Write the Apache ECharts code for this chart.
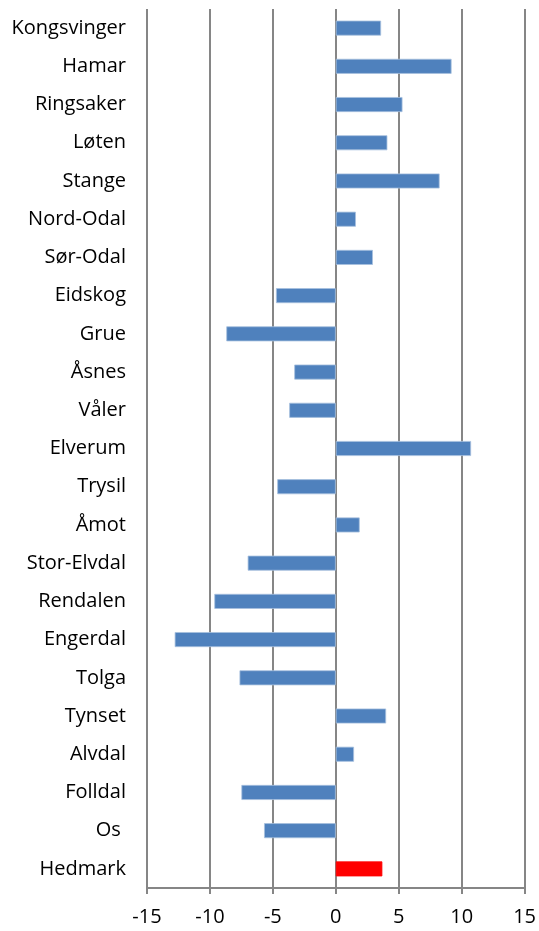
<!DOCTYPE html>
<html>
<head>
<meta charset="utf-8">
<script src="https://cdn.jsdelivr.net/npm/echarts@6/dist/echarts.min.js"></script>
<style>
  html, body { margin: 0; padding: 0; background: #fff; }
  #chart { width: 539px; height: 931px; }
</style>
</head>
<body>
<div id="chart"></div>
<script>
// kommuner, ovenfra og ned
const kommuner = ['Kongsvinger', 'Hamar', 'Ringsaker', 'Løten', 'Stange', 'Nord-Odal', 'Sør-Odal',
  'Eidskog', 'Grue', 'Åsnes', 'Våler', 'Elverum', 'Trysil', 'Åmot', 'Stor-Elvdal', 'Rendalen',
  'Engerdal', 'Tolga', 'Tynset', 'Alvdal', 'Folldal', 'Os ', 'Hedmark']
const endring = [3.6, 9.2, 5.3, 4.1, 8.25, 1.6, 2.95,
  -4.75, -8.7, -3.3, -3.7, 10.75, -4.65, 1.9, -7.0, -9.65,
  -12.8, -7.65, 4.0, 1.45, -7.5, -5.7, 3.7]
const xTicks = [-15, 15, 5] // min, max, interval

const blue = '#4f81bd'
const red = '#ff0000'
const gray = '#868686'

const chart = echarts.init(document.getElementById('chart'))

const option = {
  animation: false,
  textStyle: { fontFamily: 'Open Sans' },
  grid: { left: 147, right: 14, top: 9, bottom: 43, containLabel: false },
  xAxis: {
    type: 'value',
    min: xTicks[0],
    max: xTicks[1],
    interval: xTicks[2],
    axisLine: { show: true, onZero: false, lineStyle: { color: gray, width: 2 } },
    axisTick: { show: true, length: 6, lineStyle: { color: gray, width: 2 } },
    axisLabel: { color: '#000', fontSize: 20, margin: 19 },
    splitLine: { show: true, lineStyle: { color: gray, width: 2 } }
  },
  yAxis: {
    type: 'category',
    data: kommuner,
    inverse: true,
    axisLine: { show: false },
    axisTick: { show: false },
    axisLabel: { color: '#000', fontSize: 20, margin: 21 }
  },
  series: [
    {
      type: 'bar',
      barWidth: 15,
      data: endring.map((v, i) => ({
        value: v,
        itemStyle: {
          color: kommuner[i] === 'Hedmark' ? red : blue,
          borderColor: kommuner[i] === 'Hedmark' ? red : '#a7c0de',
          borderWidth: 0.8
        }
      }))
    }
  ]
}

chart.setOption(option)
</script>
</body>
</html>
